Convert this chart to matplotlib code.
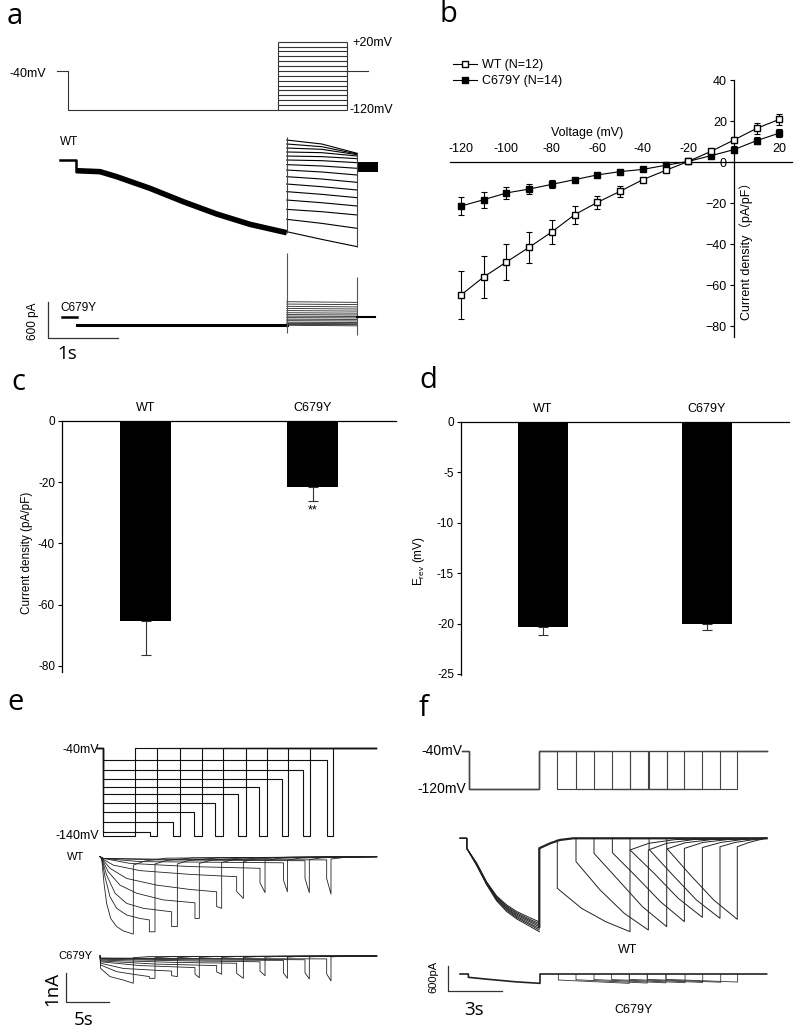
import matplotlib
matplotlib.use('Agg')
import matplotlib.pyplot as plt
from matplotlib.lines import Line2D

plt.rcParams['font.family'] = ['Liberation Sans', 'Noto Sans CJK SC']
plt.rcParams['mathtext.default'] = 'regular'

W, H = 800, 1035

# ---------------- panel a : 3 s pre-pulse / 1 s test steps ----------------
a_hold_mv = -40
a_pre_mv = -120
a_test_mv = [20, 10, 0, -10, -20, -30, -40, -50, -60, -70, -80, -90, -100, -110, -120]
a_prot_t = [0.0, 0.157, 3.166, 4.143, 4.45]   # start, pre-pulse, test on, test off, end (s)

a_wt_t = [0.047, 0.276, 0.276, 0.619, 0.857, 1.333, 1.809, 2.286, 2.761, 3.286]
a_wt_i = [0, 0, -175, -191, -273, -464, -683, -884, -1053, -1190]          # pA
a_tail_t = [3.286, 3.786, 4.294]
a_wt_tail_start = [327, 262, 196, 131, 65, 0, -76, -164, -273, -393, -518, -655, -808, -971, -1173]
a_wt_tail_mid = [262, 218, 175, 120, 55, -11, -98, -196, -311, -437, -562, -699, -846, -1037, -1299]
a_wt_tail_end = [109, 98, 87, 65, 22, -44, -136, -246, -366, -491, -617, -753, -900, -1119, -1419]
a_wt_spike = 382
a_wt_post_t = [4.294, 4.594]
a_wt_post_i = [-191, -27]

a_mut_t = [0.071, 0.286, 0.286, 3.286]
a_mut_i = [0, 0, -136, -136]
a_mut_tail_start = [245, 207, 170, 135, 100, 65, 35, 10, -15, -40, -65, -90, -110, -125, -140]
a_mut_tail_end = [235, 198, 160, 126, 92, 58, 28, 4, -20, -45, -70, -95, -115, -130, -150]
a_mut_tail_t = [3.286, 4.286]
a_mut_post_t = [4.286, 4.55]
a_mut_spikes = [[1038, -268], [655, -300]]

# ---------------- panel b : I-V ----------------
iv_mv = [-120, -110, -100, -90, -80, -70, -60, -50, -40, -30, -20, -10, 0, 10, 20]
iv_wt = [-64.9, -56.1, -48.8, -41.6, -34.1, -25.7, -19.7, -14.3, -8.6, -4.1, 0.3, 5.2, 10.7, 16.4, 20.8]
iv_wt_err = [11.7, 10.2, 9.0, 7.5, 5.7, 4.4, 3.3, 2.6, 1.0, 1.0, 0.5, 1.0, 1.5, 2.5, 2.8]
iv_mut = [-21.5, -18.4, -15.1, -13.2, -10.9, -8.6, -6.3, -4.7, -3.6, -1.6, 0.3, 3.1, 6.0, 10.4, 14.1]
iv_mut_err = [4.4, 3.9, 2.8, 2.6, 2.0, 1.0, 0.6, 0.5, 0.5, 0.5, 0.4, 0.6, 1.7, 1.7, 1.8]

# ---------------- panels c, d : bars ----------------
groups = ['WT', 'C679Y']
density = [-65.2, -21.6]
density_err = [11.4, 4.4]
erev = [-20.3, -20.06]
erev_err = [0.8, 0.55]

# ---------------- panel e : envelope of tails ----------------
e_prot_end = 32.2
e_step_t = 0.66
e_level = [-140, -135, -124, -113, -103, -92, -84, -76, -65, -54]
e_foot_t = [4.42, 6.11, 8.73, 11.22, 13.6, 16.29, 18.71, 21.29, 23.79, 26.48]
e_end_t = [4.42, 6.89, 9.57, 12.07, 14.5, 17.15, 19.57, 22.07, 24.57, 27.25]

e_wt_t = [
    [0.35, 0.54, 0.81, 1.11, 1.58, 2.27, 3.04, 4.19, 4.19, 5.5, 8.0, 32.26],
    [0.35, 0.54, 0.92, 1.50, 2.27, 3.42, 4.96, 6.04, 6.04, 6.69, 6.69, 8.0, 11.0, 32.26],
    [0.35, 0.54, 1.11, 2.08, 3.42, 5.34, 8.61, 8.61, 9.27, 9.27, 10.6, 14.0, 32.26],
    [0.35, 0.54, 1.30, 2.65, 4.57, 7.65, 11.30, 11.30, 11.80, 11.80, 13.2, 17.0, 32.26],
    [0.35, 0.54, 1.50, 3.42, 6.88, 10.73, 13.80, 13.80, 14.38, 14.38, 15.8, 19.5, 32.26],
    [0.35, 0.54, 1.88, 4.96, 10.73, 16.11, 16.11, 16.88, 16.88, 18.3, 22.0, 32.26],
    [0.35, 0.73, 3.81, 10.73, 18.80, 18.80, 19.38, 19.38, 20.8, 24.5, 32.26],
    [0.35, 0.73, 4.96, 21.50, 21.50, 21.96, 21.96, 23.4, 27.0, 32.26],
    [0.35, 0.73, 6.88, 23.99, 23.99, 24.49, 24.49, 25.9, 29.0, 32.26],
    [0.35, 0.73, 8.80, 26.49, 26.49, 26.99, 26.99, 28.4, 31.0, 32.26],
]
e_wt_i = [
    [0, -0.06, -0.92, -1.61, -2.13, -2.41, -2.56, -2.67, -0.29, -0.15, -0.05, 0],
    [0, -0.06, -0.69, -1.38, -1.78, -2.01, -2.13, -2.18, -2.59, -2.59, -0.25, -0.13, -0.04, 0],
    [0, -0.06, -0.63, -1.26, -1.61, -1.78, -1.90, -2.41, -2.41, -0.25, -0.13, -0.04, 0],
    [0, -0.06, -0.52, -0.98, -1.26, -1.49, -1.59, -2.13, -2.13, -0.23, -0.12, -0.04, 0],
    [0, -0.06, -0.40, -0.75, -0.98, -1.13, -1.21, -1.72, -1.78, -0.20, -0.10, -0.03, 0],
    [0, -0.06, -0.29, -0.48, -0.61, -0.69, -1.20, -1.44, -0.17, -0.08, -0.02, 0],
    [0, -0.06, -0.23, -0.34, -0.40, -0.90, -1.24, -0.14, -0.06, -0.02, 0],
    [0, -0.06, -0.17, -0.21, -0.80, -1.21, -0.12, -0.05, -0.01, 0],
    [0, -0.06, -0.11, -0.14, -0.75, -1.24, -0.10, -0.04, -0.01, 0],
    [0, -0.06, -0.09, -0.11, -0.75, -1.29, -0.08, -0.03, -0.01, 0],
]
e_mut_t = [
    [0.35, 0.42, 1.50, 3.04, 4.19, 4.19, 6.0, 32.26],
    [0.35, 0.42, 2.27, 4.19, 6.04, 6.04, 6.69, 6.69, 8.5, 32.26],
    [0.35, 0.42, 3.04, 6.04, 8.61, 8.61, 9.27, 9.27, 11.0, 32.26],
    [0.35, 0.42, 4.96, 11.30, 11.30, 11.80, 11.80, 13.5, 32.26],
    [0.35, 0.42, 6.88, 13.80, 13.80, 14.38, 14.38, 16.0, 32.26],
    [0.35, 0.42, 8.80, 16.11, 16.11, 16.88, 16.88, 18.5, 32.26],
    [0.35, 0.42, 10.73, 18.80, 18.80, 19.38, 19.38, 21.0, 32.26],
    [0.35, 0.42, 12.65, 21.50, 21.50, 21.96, 21.96, 23.5, 32.26],
    [0.35, 0.42, 14.57, 23.99, 23.99, 24.49, 24.49, 26.0, 32.26],
    [0.35, 0.42, 16.50, 26.49, 26.49, 26.99, 26.99, 28.5, 32.26],
]
e_mut_i = [
    [0, -0.43, -0.71, -0.83, -0.94, -0.06, -0.02, 0],
    [0, -0.31, -0.54, -0.63, -0.71, -0.77, -0.77, -0.06, -0.02, 0],
    [0, -0.25, -0.43, -0.48, -0.52, -0.68, -0.71, -0.06, -0.02, 0],
    [0, -0.20, -0.33, -0.40, -0.62, -0.75, -0.05, -0.02, 0],
    [0, -0.17, -0.28, -0.33, -0.55, -0.63, -0.05, -0.02, 0],
    [0, -0.14, -0.22, -0.25, -0.60, -0.77, -0.05, -0.02, 0],
    [0, -0.11, -0.17, -0.20, -0.52, -0.68, -0.04, -0.01, 0],
    [0, -0.09, -0.14, -0.15, -0.58, -0.77, -0.04, -0.01, 0],
    [0, -0.08, -0.11, -0.13, -0.58, -0.79, -0.03, -0.01, 0],
    [0, -0.07, -0.09, -0.10, -0.62, -0.86, -0.03, -0.01, 0],
]

# ---------------- panel f : recovery / reactivation ----------------
f_prot_t = [0.0, 0.42, 4.31, 16.94]
f_pulse_t = [
    [5.31, 6.66, 8.00, 9.35],
    [6.35, 7.69, 9.03, 10.37],
    [7.35, 8.70, 10.04, 11.39],
    [8.37, 9.70, 11.04, 12.37],
    [9.35, 10.69, 12.03, 13.37],
    [10.41, 11.72, 13.04, 14.35],
    [11.39, 12.70, 14.00, 15.31],
]
f_pre_t = [-0.09, 0.28, 0.28, 0.83, 1.39, 1.94, 2.50, 3.06, 3.79, 4.31]
f_pre_i = [
    [0, 0, -243, -600, -1060, -1400, -1620, -1780, -1930, -2030],
    [0, 0, -243, -610, -1080, -1420, -1650, -1810, -1970, -2070],
    [0, 0, -243, -620, -1090, -1440, -1670, -1840, -2000, -2110],
    [0, 0, -243, -630, -1100, -1460, -1700, -1870, -2030, -2150],
    [0, 0, -243, -640, -1110, -1480, -1720, -1900, -2070, -2190],
    [0, 0, -243, -650, -1120, -1500, -1750, -1930, -2100, -2230],
    [0, 0, -243, -660, -1130, -1520, -1780, -1960, -2140, -2270],
]
f_deact_t = [4.31, 4.31, 4.91, 5.46, 6.20, 16.94]
f_deact_i = [-2150, -243, -122, -40, 0, 0]
f_pulse_base = [-40, 0, 0, 0, 0, 0, 0]
f_pulse_i = [
    [-1216, -1702, -2026, -2269],
    [-567, -1256, -1823, -2229],
    [-365, -1013, -1661, -2148],
    [-349, -932, -1540, -2026],
    [-284, -851, -1459, -1921],
    [-268, -891, -1499, -1945],
    [-243, -891, -1499, -1969],
]
f_ret_t = [
    [9.35, 10.4, 11.9, 16.94],
    [10.37, 11.4, 12.9, 16.94],
    [11.39, 12.4, 13.9, 16.94],
    [12.37, 13.4, 14.9, 16.94],
    [13.37, 14.4, 15.6, 16.94],
    [14.35, 15.2, 16.1, 16.94],
    [15.31, 15.9, 16.4, 16.94],
]
f_ret_i = [
    [-284, -120, -30, 0],
    [-284, -120, -30, 0],
    [-260, -110, -30, 0],
    [-245, -100, -25, 0],
    [-225, -100, -30, 0],
    [-205, -100, -40, 0],
    [-205, -110, -50, 0],
]
f_mut_pre_t = [-0.09, 0.37, 0.37, 1.5, 3.0, 4.35, 4.35, 16.94]
f_mut_pre_i = [0, 0, -81, -130, -190, -227, 0, 0]
f_mut_start = [5.37, 6.35, 7.35, 8.33, 9.31, 10.31, 11.35]
f_mut_end = [9.31, 10.31, 11.35, 12.41, 13.39, 14.39, 15.33]
f_mut_d = [-146, -140, -135, -135, -130, -130, -130]
f_mut_e = [-227, -220, -215, -211, -205, -200, -195]

fig = plt.figure(figsize=(W / 100, H / 100), dpi=100)


def px_axes(x0, y0, x1, y1):
    return fig.add_axes([x0 / W, 1 - y1 / H, (x1 - x0) / W, (y1 - y0) / H])


def trace_axes(x0, y0, x1, y1, t0_px, px_per_t, ref_px, ref_val, px_per_unit):
    ax = px_axes(x0, y0, x1, y1)
    ax.set_xlim((x0 - t0_px) / px_per_t, (x1 - t0_px) / px_per_t)
    ax.set_ylim(ref_val - (y1 - ref_px) / px_per_unit, ref_val + (ref_px - y0) / px_per_unit)
    ax.axis('off')
    return ax


def ftext(x, y, s, **kw):
    fig.text(x / W, 1 - y / H, s, **kw)


def scale_bar(ax, t0, i0, dt, di):
    ax.plot([t0, t0, t0 + dt], [i0 + di, i0, i0], color='#333333', lw=0.9, clip_on=False)


big = dict(family='Open Sans', fontsize=21, va='center', ha='center')
bar_font = dict(family='Open Sans', fontsize=13.5, va='center', ha='center')
pc = '#333333'

# ---- a ----
ftext(15, 16, 'a', **big)
axp = trace_axes(40, 30, 395, 120, 56.7, 70, 110, -120, 0.488)
t = a_prot_t
axp.plot([t[0], t[1], t[1], t[2]], [a_hold_mv, a_hold_mv, a_pre_mv, a_pre_mv], color=pc, lw=0.8)
axp.hlines(a_test_mv, t[2], t[3], color=pc, lw=0.8)
axp.vlines([t[2], t[3]], min(a_test_mv), max(a_test_mv), color=pc, lw=0.8)
axp.plot([t[3], t[4]], [a_hold_mv, a_hold_mv], color=pc, lw=0.8)
ftext(10, 74, '-40mV', fontsize=9, va='center', ha='left')
ftext(352, 43, '+20mV', fontsize=9, va='center', ha='left')
ftext(350, 110, '-120mV', fontsize=9, va='center', ha='left')

axw = trace_axes(40, 125, 395, 262, 56.7, 70, 160, 0, 0.0611)
axw.plot(a_wt_t[:3], a_wt_i[:3], color='black', lw=1.8)
axw.plot(a_wt_t[2:], a_wt_i[2:], color='black', lw=4, solid_capstyle='butt')
for s, m, e in zip(a_wt_tail_start, a_wt_tail_mid, a_wt_tail_end):
    axw.plot(a_tail_t, [s, m, e], color='black', lw=0.8)
axw.vlines(a_tail_t[0], min(a_wt_i), a_wt_spike, color='#444444', lw=0.8)
axw.vlines(a_tail_t[-1], min(a_wt_tail_end), max(a_wt_tail_end), color='#444444', lw=0.8)
axw.fill_between(a_wt_post_t, a_wt_post_i[0], a_wt_post_i[1], color='black', lw=0)
ftext(60, 142, 'WT', fontsize=8.5, va='center', ha='left')

axm = trace_axes(30, 245, 395, 345, 56.7, 70, 316.7, 0, 0.0611)
axm.plot(a_mut_t[:2], a_mut_i[:2], color='black', lw=1.8)
axm.plot(a_mut_t[2:], a_mut_i[2:], color='black', lw=2.2)
for s, e in zip(a_mut_tail_start, a_mut_tail_end):
    axm.plot(a_mut_tail_t, [s, e], color='#222222', lw=0.6)
for tt, (hi, lo) in zip(a_mut_tail_t, a_mut_spikes):
    axm.vlines(tt, lo, hi, color='#555555', lw=0.8)
axm.plot(a_mut_post_t, [0, 0], color='black', lw=1.5)
scale_bar(axm, -0.124, -354, 1.0, 600)
ftext(60, 308, 'C679Y', fontsize=8.5, va='center', ha='left')
ftext(33, 321, '600 pA', fontsize=8.5, rotation=90, va='center', ha='center')
ftext(67, 354, '1s', **bar_font)

# ---- b ----
ftext(448, 15, 'b', **big)
axb = px_axes(450, 80, 792, 337)
axb.set_xlim((450 - 733.8) / 2.274, (792 - 733.8) / 2.274)
axb.set_ylim(40 - (337 - 80) / 2.05, 40)
axb.errorbar(iv_mv, iv_mut, yerr=iv_mut_err, fmt='-s', color='black', mfc='black', mec='black',
             ms=4.5, lw=0.8, elinewidth=0.8, capsize=2.5, capthick=0.8, zorder=3)
axb.errorbar(iv_mv, iv_wt, yerr=iv_wt_err, fmt='-s', color='black', mfc='white', mec='black',
             ms=4.5, lw=0.8, elinewidth=0.8, capsize=2.5, capthick=0.8, zorder=4)
for side in ['right', 'bottom']:
    axb.spines[side].set_visible(False)
axb.spines['left'].set_position(('data', 0))
axb.spines['top'].set_position(('data', 0))
axb.spines['left'].set_bounds(axb.get_ylim()[0], 40)
axb.xaxis.tick_top()
axb.set_xticks([-120, -100, -80, -60, -40, -20, 0, 20])
axb.set_xticklabels(['-120', '-100', '-80', '-60', '-40', '-20', '', '20'])
axb.set_yticks([40, 20, 0, -20, -40, -60, -80])
axb.tick_params(axis='x', length=0, pad=5, labelsize=9)
axb.tick_params(axis='y', length=3, width=0.8, pad=2, labelsize=9)
for sp in axb.spines.values():
    sp.set_linewidth(0.9)
axb.patch.set_visible(False)
axb.text(-64.7, 14, 'Voltage (mV)', fontsize=9, ha='center', va='center')
axb.text(5.6, -42, 'Current density（pA/pF）', fontsize=9, rotation=90, ha='center', va='center')
leg_handles = [Line2D([], [], color='black', marker='s', mfc='white', mec='black', ms=5, lw=0.8),
               Line2D([], [], color='black', marker='s', mfc='black', mec='black', ms=5, lw=0.8)]
fig.legend(leg_handles, ['WT (N=12)', 'C679Y (N=14)'], loc='upper left',
           bbox_to_anchor=(453 / W, 1 - 59 / H), frameon=False, fontsize=9,
           handlelength=1.9, handletextpad=0.4, labelspacing=0.35, borderpad=0, borderaxespad=0)


# ---- c, d ----
def bar_panel(ax, vals, errs, ylim, yticks, ylabels):
    x = [1, 2]
    ax.bar(x, vals, width=0.3, color='black')
    ax.errorbar(x, vals, yerr=[errs, [0, 0]], fmt='none', ecolor='#333333', elinewidth=0.8,
                capsize=3.5, capthick=0.8)
    ax.set_xlim(0.5, 2.5)
    ax.set_ylim(*ylim)
    ax.spines['right'].set_visible(False)
    ax.spines['bottom'].set_visible(False)
    ax.xaxis.tick_top()
    ax.set_xticks(x)
    ax.set_xticklabels(groups)
    ax.set_yticks(yticks)
    ax.set_yticklabels(ylabels)
    ax.tick_params(axis='x', length=0, pad=5, labelsize=9)
    ax.tick_params(axis='y', length=3, width=0.8, pad=2, labelsize=8.5)
    for sp in ax.spines.values():
        sp.set_linewidth(0.9)


ftext(18, 383, 'c', **big)
axc = px_axes(62, 421, 396, 672)
bar_panel(axc, density, density_err, (-82, 0), [0, -20, -40, -60, -80],
          ['0', '-20', '-40', '-60', '-80'])
axc.text(2, -29.3, '**', fontsize=9, ha='center', va='center')
ftext(27, 553, 'Current density (pA/pF)', fontsize=8.5, rotation=90, va='center', ha='center')

ftext(428, 381, 'd', **big)
axd = px_axes(461, 422, 789, 675)
bar_panel(axd, erev, erev_err, (-25.1, 0), [0, -5, -10, -15, -20, -25],
          ['0', '-5', '-10', '-15', '-20', '-25'])
ftext(419, 561, 'E$_{rev}$ (mV)', fontsize=8.5, rotation=90, va='center', ha='center')

# ---- e ----
ftext(16, 703, 'e', **big)
axep = trace_axes(90, 735, 385, 845, 97, 8.67, 836, -140, 0.883)
for lv, tf, te in zip(e_level, e_foot_t, e_end_t):
    axep.plot([0, e_step_t, e_step_t, tf, tf, te, te, e_prot_end],
              [-40, -40, lv, lv, -140, -140, -40, -40], color='#111111', lw=0.8)
ftext(99, 750, '-40mV', fontsize=9, va='center', ha='right')
ftext(99, 836, '-140mV', fontsize=9, va='center', ha='right')

axew = trace_axes(90, 850, 385, 945, 97, 8.67, 856.7, 0, 29)
for tt, ii in zip(e_wt_t, e_wt_i):
    axew.plot(tt, ii, color='#222222', lw=0.6)
ftext(67, 857, 'WT', fontsize=8, va='center', ha='left')

axem = trace_axes(55, 945, 385, 1010, 97, 8.67, 956, 0, 29)
for tt, ii in zip(e_mut_t, e_mut_i):
    axem.plot(tt, ii, color='#222222', lw=0.6)
scale_bar(axem, -3.58, -1.597, 5, 1)
ftext(58, 956, 'C679Y', fontsize=8, va='center', ha='left')
ftext(52, 989, '1nA', rotation=90, **bar_font)
ftext(84, 1020, '5s', **bar_font)

# ---- f ----
ftext(423, 708, 'f', **big)
axfp = trace_axes(455, 740, 775, 800, 461.7, 18, 789, -120, 0.475)
for pt in f_pulse_t:
    s, e = pt[0], pt[-1]
    axfp.plot([f_prot_t[0], f_prot_t[1], f_prot_t[1], f_prot_t[2], f_prot_t[2], s, s, e, e, f_prot_t[3]],
              [-40, -40, -120, -120, -40, -40, -120, -120, -40, -40], color='#444444', lw=0.8)
ftext(462, 751, '-40mV', fontsize=10, va='center', ha='right')
ftext(466, 789, '-120mV', fontsize=10, va='center', ha='right')

axfw = trace_axes(440, 830, 775, 940, 461.7, 18, 838.3, 0, 1 / 24.3)
for ii in f_pre_i:
    axfw.plot(f_pre_t, ii, color='#222222', lw=0.7)
axfw.plot(f_deact_t, f_deact_i, color='#222222', lw=1.6)
for pt, pi, base, rt, ri in zip(f_pulse_t, f_pulse_i, f_pulse_base, f_ret_t, f_ret_i):
    axfw.plot([pt[0]] + pt + rt, [base] + pi + ri, color='#222222', lw=0.7)
ftext(628, 950, 'WT', fontsize=9, va='center', ha='center')

axfm = trace_axes(440, 955, 775, 1000, 461.7, 18, 974, 0, 1 / 24.3)
axfm.plot(f_mut_pre_t, f_mut_pre_i, color='#222222', lw=1.2)
for s, e, d, v in zip(f_mut_start, f_mut_end, f_mut_d, f_mut_e):
    axfm.plot([s, s, e, e], [0, d, v, 0], color='#333333', lw=0.6)
scale_bar(axfm, -0.744, -406, 3, 600)
ftext(433, 977, '600pA', fontsize=8, rotation=90, va='center', ha='center')
ftext(474, 1010, '3s', **bar_font)
ftext(634, 1010, 'C679Y', fontsize=9, va='center', ha='center')

fig.savefig('out.png', dpi=100)
